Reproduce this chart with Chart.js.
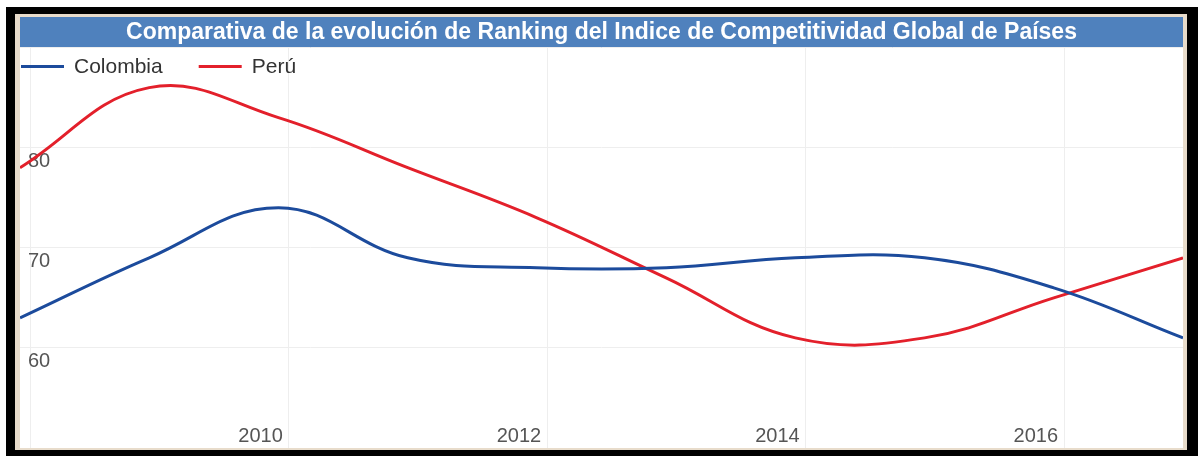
<!DOCTYPE html>
<html lang="es">
<head>
<meta charset="UTF-8">
<title>Ranking Índice de Competitividad Global</title>
<script src="https://cdn.jsdelivr.net/npm/chart.js"></script>
<style>
  body { margin: 0; background: #fff; }
  #marco { position: absolute; left: 6px; top: 7px; width: 1192px; height: 449px; background: #000; }
  #borde { position: absolute; left: 9px; top: 7px; width: 1172px; height: 436px; background: #e8dccb; }
  #grafico { position: absolute; left: 5px; top: 3px; width: 1163px; height: 431px; background: #fff; }
</style>
</head>
<body>
<div id="marco">
  <div id="borde">
    <div id="grafico"><canvas id="myChartCanvas"></canvas></div>
  </div>
</div>

<script>
// datos
var anios = [2007.92, 2008.92, 2009.92, 2010.92, 2011.92, 2012.92, 2013.92, 2014.92, 2015.92, 2016.92];
var colombia = [63, 69, 74, 69, 68, 68, 69, 69, 66, 61];
var peru = [78, 86, 83, 78, 73, 67, 61, 61, 65, 69];
var ticksX = [2008, 2010, 2012, 2014, 2016];
var etiquetasX = ['', '2010', '2012', '2014', '2016'];
var etiquetasY = [60, 70, 80];

var fuente = '"Liberation Sans", Arial, sans-serif';

function puntos(valores) {
    return valores.map(function (v, i) { return { x: anios[i], y: v }; });
}

// barra azul detras del titulo
const fondoTitulo = {
    id: 'fondoTitulo',
    beforeDraw(chart) {
        const t = chart.titleBlock;
        const ctx = chart.ctx;
        ctx.save();
        ctx.fillStyle = '#4f81bd';
        ctx.fillRect(0, t.top, chart.width, t.height);
        ctx.restore();
    }
};

// leyenda dentro del area del grafico
const leyenda = {
    id: 'leyenda',
    afterDraw(chart) {
        const ctx = chart.ctx;
        let x = chart.chartArea.left + 1;
        const y = chart.chartArea.top + 19;
        ctx.save();
        ctx.font = '21px ' + fuente;
        ctx.textBaseline = 'middle';
        ctx.textAlign = 'left';
        chart.data.datasets.forEach(function (ds) {
            ctx.strokeStyle = ds.borderColor;
            ctx.lineWidth = 3;
            ctx.beginPath();
            ctx.moveTo(x, y);
            ctx.lineTo(x + 43, y);
            ctx.stroke();
            ctx.fillStyle = '#333333';
            ctx.fillText(ds.label, x + 53, y + 1);
            x += 53 + ctx.measureText(ds.label).width + 36;
        });
        ctx.restore();
    }
};

const config = {
    type: 'line',
    data: {
        datasets: [{
            label: 'Colombia',
            data: puntos(colombia),
            borderColor: '#1c4b9c',
            borderWidth: 3,
            pointRadius: 0,
            tension: 0.4,
            fill: false
        }, {
            label: 'Perú',
            data: puntos(peru),
            borderColor: '#e3202b',
            borderWidth: 3,
            pointRadius: 0,
            tension: 0.4,
            fill: false
        }]
    },
    options: {
        responsive: true,
        maintainAspectRatio: false,
        devicePixelRatio: 1,
        animation: false,
        layout: { padding: 0 },
        plugins: {
            legend: { display: false },
            tooltip: { enabled: false },
            title: {
                display: true,
                text: 'Comparativa de la evolución de Ranking del Indice de Competitividad Global de Países',
                color: '#ffffff',
                font: { family: fuente, size: 23, weight: 'bold', lineHeight: 1.2 },
                padding: { top: 2, bottom: 1 }
            }
        },
        scales: {
            x: {
                type: 'linear',
                min: anios[0],
                max: anios[anios.length - 1],
                afterBuildTicks: function (s) {
                    s.ticks = ticksX.map(function (v) { return { value: v }; });
                },
                afterFit: function (s) {
                    s.height = 0;
                    s.paddingLeft = 0;
                    s.paddingRight = 0;
                },
                grid: { color: '#eeeeee', drawTicks: false },
                border: { display: false },
                ticks: {
                    mirror: true,
                    align: 'end',
                    labelOffset: -6,
                    padding: 0,
                    autoSkip: false,
                    maxRotation: 0,
                    color: '#555555',
                    font: { family: fuente, size: 20 },
                    callback: function (v) {
                        return etiquetasX[ticksX.indexOf(v)];
                    }
                }
            },
            y: {
                min: 50,
                max: 90,
                afterFit: function (s) {
                    s.width = 0;
                    s.paddingTop = 0;
                    s.paddingBottom = 0;
                },
                grid: { color: '#eeeeee', drawTicks: false },
                border: { display: false },
                ticks: {
                    stepSize: 10,
                    mirror: true,
                    padding: 8,
                    labelOffset: 14,
                    color: '#555555',
                    font: { family: fuente, size: 20 },
                    callback: function (v) {
                        return etiquetasY.indexOf(v) >= 0 ? v : '';
                    }
                }
            }
        }
    },
    plugins: [fondoTitulo, leyenda]
};

let ctx = document.getElementById('myChartCanvas').getContext('2d');
let myChart = new Chart(ctx, config);
</script>
</body>
</html>
